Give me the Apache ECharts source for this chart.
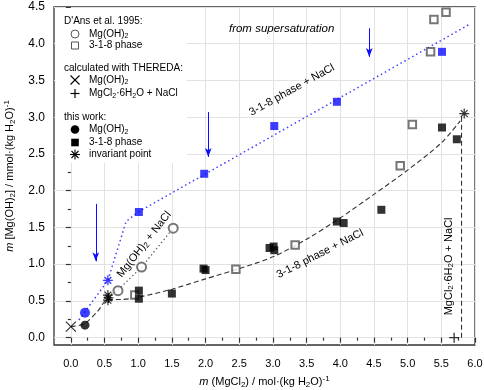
<!DOCTYPE html>
<html>
<head>
<meta charset="utf-8">
<script src="https://cdn.jsdelivr.net/npm/echarts@6/dist/echarts.min.js"></script>
<style>html,body{margin:0;padding:0;background:#fff;}#c{width:484px;height:390px;}</style>
</head>
<body>
<div id="c"></div>
<script>
// ---- data ----
const xTicks = [0, 0.5, 1, 1.5, 2, 2.5, 3, 3.5, 4, 4.5, 5, 5.5, 6];
const yTicks = [0, 0.5, 1, 1.5, 2, 2.5, 3, 3.5, 4, 4.5];
const xMinorTicks = [0.25, 0.75, 1.25, 1.75, 2.25, 2.75, 3.25, 3.75, 4.25, 4.75, 5.25, 5.75];
const yMinorTicks = [0.25, 0.75, 1.25, 1.75, 2.25, 2.75, 3.25, 3.75, 4.25];

const dAnsMgOH2 = [[0.70, 0.64], [1.05, 0.96], [1.52, 1.49]];
const dAns318 = [[0.95, 0.58], [2.45, 0.93], [3.33, 1.26], [4.89, 2.34], [5.07, 2.90], [5.34, 3.89], [5.39, 4.33], [5.57, 4.43]];
const theredaMgOH2 = [[0.0, 0.15]];
const theredaMgCl2NaCl = [[5.69, 0.0]];
const workMgOH2 = [[0.21, 0.17]];
const work318 = [[1.01, 0.64], [1.01, 0.53], [1.50, 0.60], [1.97, 0.94], [2.00, 0.92], [2.95, 1.22], [3.01, 1.24], [3.02, 1.19], [3.95, 1.58], [4.05, 1.56], [4.61, 1.74], [5.51, 2.86], [5.73, 2.70]];
const workInvariant = [[0.55, 0.58], [0.56, 0.54], [0.55, 0.51], [5.84, 3.05]];
const superMgOH2 = [[0.21, 0.34]];
const superInvariant = [[0.55, 0.78]];
const super318 = [[1.01, 1.71], [1.98, 2.23], [3.02, 2.88], [3.95, 3.21], [5.51, 3.89]];

const curve318NaCl = [[0.0, 0.15], [0.2, 0.19], [0.4, 0.36], [0.55, 0.52], [0.75, 0.52], [1.0, 0.55], [1.5, 0.66], [2.0, 0.80], [2.5, 0.94], [3.0, 1.10], [3.5, 1.34], [4.0, 1.63], [4.5, 1.95], [5.0, 2.28], [5.5, 2.65], [5.78, 2.95]];
const curveMgOH2NaCl = [[0.55, 0.56], [0.70, 0.65], [1.05, 0.96], [1.52, 1.49]];
const curveMgCl2NaCl = [[5.80, 0.0], [5.80, 3.02]];
const curveSuper = [[0.12, 0.24], [0.55, 0.78], [0.82, 1.58], [1.0, 1.71], [5.93, 4.27]];
const superArrows = [[[0.37, 1.82], [0.37, 1.04]], [[2.04, 3.07], [2.04, 2.46]], [[4.43, 4.21], [4.43, 3.82]]];

// annotation anchors (data coordinates) and rotation (degrees)
const annSuperText = [3.13, 4.20];
const annBlue318 = [3.28, 3.37, 29];
const annBlack318 = [3.70, 1.14, 27];
const annMgOH2NaCl = [1.09, 1.27, 52];
const annMgCl2 = [5.61, 0.97, 90];

// ---- styling ----
const BLUE = '#0c0cff';
const GRAY = '#555';
const FONT = 'Liberation Sans, Arial, sans-serif';
const PATH_X = 'path://M0 0L10 10M10 0L0 10';
const PATH_PLUS = 'path://M5 0L5 10M0 5L10 5';
const PATH_AST = 'path://M5 0L5 10M0 5L10 5M1.6 1.6L8.4 8.4M8.4 1.6L1.6 8.4';

const subRich = {
  i: {fontStyle: 'italic', fontSize: 11, fontFamily: FONT, color: '#000', lineHeight: 14},
  n: {fontSize: 11, fontFamily: FONT, color: '#000', lineHeight: 14},
  s: {fontSize: 8, fontFamily: FONT, color: '#000', verticalAlign: 'bottom', lineHeight: 8},
  p: {fontSize: 8, fontFamily: FONT, color: '#000', verticalAlign: 'top', lineHeight: 8}
};

const chart = echarts.init(document.getElementById('c'), null, {renderer: 'canvas'});

function scatter(name, data, symbol, size, itemStyle, z) {
  return {type: 'scatter', name, data, symbol, symbolSize: size, itemStyle, z: z || 4, clip: false, animation: false};
}
function curve(data, color, type, width, smooth) {
  return {type: 'line', data, showSymbol: false, symbol: 'none', smooth: smooth || false,
    lineStyle: {color, type, width}, z: 3, animation: false, silent: true};
}

const option = {
  animation: false,
  backgroundColor: '#fff',
  grid: {left: 54, right: 9, top: 7, bottom: 45, show: true, borderColor: '#333', borderWidth: 1.3,
    backgroundColor: 'transparent', containLabel: false, outerBoundsMode: 'none'},
  xAxis: [{
    type: 'value', min: -0.25, max: 6,
    name: '{i|m}{n| (MgCl}{s|2}{n|) / mol·(kg H}{s|2}{n|O)}{p|-1}',
    nameLocation: 'middle', nameGap: 30,
    nameTextStyle: {rich: subRich},
    axisLine: {show: false},
    axisTick: {show: true, customValues: xTicks, length: 5, lineStyle: {color: '#333', width: 1.2}},
    axisLabel: {customValues: xTicks, formatter: v => v.toFixed(1), fontSize: 11, fontFamily: FONT, color: '#000', margin: 13},
    splitLine: {show: true, lineStyle: {color: '#e2e2e2', width: 1}}
  }, {
    type: 'value', min: -0.25, max: 6, position: 'bottom',
    axisLine: {show: false},
    axisTick: {show: true, customValues: xMinorTicks, length: 3, lineStyle: {color: '#333', width: 1.2}},
    axisLabel: {show: false},
    splitLine: {show: false}
  }],
  yAxis: [{
    type: 'value', min: -0.1, max: 4.5,
    name: '{i|m}{n| [Mg(OH)}{s|2}{n|] / mmol·(kg H}{s|2}{n|O)}{p|-1}',
    nameLocation: 'middle', nameGap: 37,
    nameTextStyle: {rich: subRich},
    axisLine: {show: false},
    axisTick: {show: true, customValues: yTicks, length: 5, lineStyle: {color: '#333', width: 1.2}},
    axisLabel: {customValues: yTicks, formatter: v => v.toFixed(1), fontSize: 12, fontFamily: FONT, color: '#000', margin: 9},
    splitLine: {show: true, lineStyle: {color: '#e2e2e2', width: 1}}
  }, {
    type: 'value', min: -0.1, max: 4.5, position: 'left',
    axisLine: {show: false},
    axisTick: {show: true, customValues: yMinorTicks, length: 3, lineStyle: {color: '#333', width: 1.2}},
    axisLabel: {show: false},
    splitLine: {show: false}
  }],
  series: [
    curve(curve318NaCl, '#333', [5, 3], 1.1, 0.3),
    curve(curveMgOH2NaCl, GRAY, [1.3, 2.7], 1.3),
    curve(curveMgCl2NaCl, '#333', [5, 3], 1.1),
    Object.assign(curve(curveSuper, '#4040ff', [1.5, 3], 1.5), {
      markLine: {
        silent: true, symbol: ['none', 'arrow'], symbolSize: [5, 9],
        lineStyle: {color: BLUE, width: 1, type: 'solid'}, label: {show: false},
        data: superArrows.map(a => [{coord: a[0]}, {coord: a[1]}])
      }
    }),
    scatter('dAnsMgOH2', dAnsMgOH2, 'emptyCircle', 9, {color: GRAY, borderWidth: 1}),
    scatter('dAns318', dAns318, 'emptyRect', 7.5, {color: GRAY, borderWidth: 1}),
    scatter('theredaMgOH2', theredaMgOH2, PATH_X, 10, {color: 'none', borderColor: '#000', borderWidth: 1.2}),
    scatter('theredaMgCl2NaCl', theredaMgCl2NaCl, PATH_PLUS, 10, {color: 'none', borderColor: '#000', borderWidth: 1.3}),
    scatter('workMgOH2', workMgOH2, 'circle', 9, {color: '#000'}),
    scatter('work318', work318, 'rect', 8, {color: '#000'}),
    scatter('workInvariant', workInvariant, PATH_AST, 10, {color: 'none', borderColor: '#000', borderWidth: 1.2}),
    scatter('superMgOH2', superMgOH2, 'circle', 10, {color: BLUE}),
    scatter('superInvariant', superInvariant, PATH_AST, 10, {color: 'none', borderColor: BLUE, borderWidth: 1.3}),
    scatter('super318', super318, 'rect', 8, {color: BLUE})
  ]
};
chart.setOption(option);

// ---- legend (drawn as graphic) and annotations ----
const legRich = {
  n: {fontSize: 10, fontFamily: FONT, color: '#000', lineHeight: 12},
  s: {fontSize: 7, fontFamily: FONT, color: '#000', verticalAlign: 'bottom', lineHeight: 7}
};
function ltext(x, y, text) {
  return {type: 'text', x, y, z: 20, style: {text, rich: legRich, font: '10px ' + FONT, fill: '#000', textVerticalAlign: 'middle'}};
}
const SX = 75;
const legend = [
  {type: 'rect', z: 19, shape: {x: 55, y: 8, width: 132, height: 155}, style: {fill: '#fff'}},
  ltext(64, 21, "{n|D'Ans et al. 1995:}"),
  {type: 'circle', z: 20, shape: {cx: SX, cy: 34, r: 4}, style: {fill: '#fff', stroke: GRAY, lineWidth: 1}},
  ltext(89, 34, '{n|Mg(OH)}{s|2}'),
  {type: 'rect', z: 20, shape: {x: SX - 3.5, y: 45.5 - 3.5, width: 7, height: 7}, style: {fill: '#fff', stroke: GRAY, lineWidth: 1}},
  ltext(89, 45.5, '{n|3-1-8 phase}'),
  ltext(64, 68.5, '{n|calculated with THEREDA:}'),
  {type: 'polyline', z: 20, shape: {points: [[SX - 4.5, 75.5], [SX + 4.5, 84.5]]}, style: {stroke: '#000', lineWidth: 1.1}},
  {type: 'polyline', z: 20, shape: {points: [[SX + 4.5, 75.5], [SX - 4.5, 84.5]]}, style: {stroke: '#000', lineWidth: 1.1}},
  ltext(89, 80, '{n|Mg(OH)}{s|2}'),
  {type: 'polyline', z: 20, shape: {points: [[SX - 4.5, 93.5], [SX + 4.5, 93.5]]}, style: {stroke: '#000', lineWidth: 1.2}},
  {type: 'polyline', z: 20, shape: {points: [[SX, 89], [SX, 98]]}, style: {stroke: '#000', lineWidth: 1.2}},
  ltext(89, 93.5, '{n|MgCl}{s|2}{n|·6H}{s|2}{n|O + NaCl}'),
  ltext(64, 117.5, '{n|this work:}'),
  {type: 'circle', z: 20, shape: {cx: SX, cy: 129.5, r: 4.3}, style: {fill: '#000'}},
  ltext(89, 129.5, '{n|Mg(OH)}{s|2}'),
  {type: 'rect', z: 20, shape: {x: SX - 3.8, y: 142.5 - 3.8, width: 7.6, height: 7.6}, style: {fill: '#000'}},
  ltext(89, 142.5, '{n|3-1-8 phase}'),
  {type: 'polyline', z: 20, shape: {points: [[SX, 149.5], [SX, 159.5]]}, style: {stroke: '#000', lineWidth: 1.1}},
  {type: 'polyline', z: 20, shape: {points: [[SX - 5, 154.5], [SX + 5, 154.5]]}, style: {stroke: '#000', lineWidth: 1.1}},
  {type: 'polyline', z: 20, shape: {points: [[SX - 3.5, 151], [SX + 3.5, 158]]}, style: {stroke: '#000', lineWidth: 1.1}},
  {type: 'polyline', z: 20, shape: {points: [[SX + 3.5, 151], [SX - 3.5, 158]]}, style: {stroke: '#000', lineWidth: 1.1}},
  ltext(89, 154.5, '{n|invariant point}')
];

function px(p) { return chart.convertToPixel({xAxisIndex: 0, yAxisIndex: 0}, [p[0], p[1]]); }
function annot(p, text, rich, deg) {
  const q = px(p);
  return {type: 'text', x: q[0], y: q[1], rotation: (deg || 0) * Math.PI / 180, z: 20,
    style: {text, rich, align: 'center', verticalAlign: 'middle', textAlign: 'center', textVerticalAlign: 'middle'}};
}
const blueRich = {
  n: {fontSize: 11, fontFamily: FONT, color: BLUE},
  it: {fontSize: 11.5, fontFamily: FONT, color: BLUE, fontStyle: 'italic'}
};
const blackRich = {
  n: {fontSize: 11, fontFamily: FONT, color: '#000', lineHeight: 13},
  s: {fontSize: 8, fontFamily: FONT, color: '#000', verticalAlign: 'bottom', lineHeight: 8}
};
const annotations = [
  annot(annSuperText, '{it|from supersaturation}', blueRich, 0),
  annot(annBlue318, '{n|3-1-8 phase + NaCl}', blueRich, annBlue318[2]),
  annot(annBlack318, '{n|3-1-8 phase + NaCl}', blackRich, annBlack318[2]),
  annot(annMgOH2NaCl, '{n|Mg(OH)}{s|2}{n| + NaCl}', blackRich, annMgOH2NaCl[2]),
  annot(annMgCl2, '{n|MgCl}{s|2}{n|·6H}{s|2}{n|O + NaCl}', blackRich, annMgCl2[2])
];
chart.setOption({graphic: legend.concat(annotations)});
</script>
</body>
</html>
